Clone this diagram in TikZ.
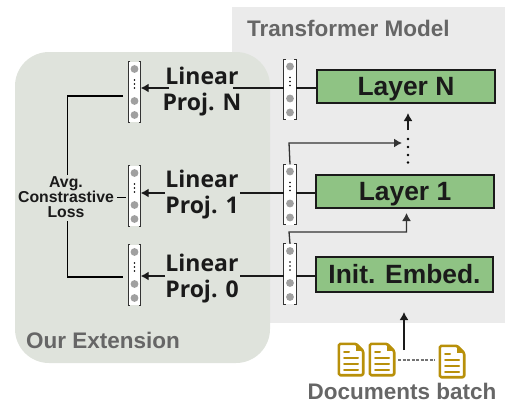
\documentclass[tikz,border=0pt]{standalone}
\usepackage{fontspec}
\setmainfont{Liberation Sans}
\newfontfamily\opensans{Open Sans}
\usetikzlibrary{arrows.meta,calc}
\definecolor{modelbg}{HTML}{EBEBEB}
\definecolor{extbg}{HTML}{DFE3DC}
\definecolor{layergreen}{HTML}{8FC384}
\definecolor{edgeink}{HTML}{1A1A1A}
\definecolor{dotgray}{HTML}{A0A0A0}
\definecolor{titlegray}{HTML}{666666}
\definecolor{docgold}{HTML}{B8900A}
\tikzset{
  x=1pt,y=-1pt,
  layerbox/.style={draw=edgeink,line width=1.2pt,fill=layergreen,text=edgeink,inner sep=0pt,text height=19pt,text depth=2pt,font=\bfseries\fontsize{26.4}{28}\selectfont},
  vecbox/.style={fill=white,minimum width=12pt,minimum height=60pt,inner sep=0pt},
  proj/.style={text=edgeink,align=center,inner sep=0pt,font=\opensans\bfseries\fontsize{23}{26}\selectfont},
  title/.style={text=titlegray,inner sep=0pt,font=\bfseries\fontsize{22.5}{24}\selectfont},
  wire/.style={edgeink,line width=1.4pt},
  thickwire/.style={black,line width=1.8pt},
  arrowwire/.style={wire,-{Latex[length=8pt,width=9pt]}},
  graywire/.style={draw=black!80,line width=1.3pt,-{Latex[length=8pt,width=9pt]}},
  docline/.style={docgold,line width=2pt,line cap=round},
}
\newcommand{\vecnode}[3]{%
  \node[vecbox] (#1) at (#2,#3) {};
  \draw[black!80,line width=1.1pt]
    ($(#1.north west)+(2,0)$) -- (#1.north west) -- (#1.south west) -- ($(#1.south west)+(2,0)$)
    ($(#1.north east)+(-2,0)$) -- (#1.north east) -- (#1.south east) -- ($(#1.south east)+(-2,0)$);
  \fill[dotgray] (#2,#3-23) circle (3.9) (#2,#3+9) circle (3.9) (#2,#3+23) circle (3.9);
  \fill[black] (#2,#3-12) circle (0.8) (#2,#3-8) circle (0.8) (#2,#3-4) circle (0.8);
}
\newcommand{\docicon}[3]{%
  \node[minimum width=26pt,minimum height=33pt,inner sep=0pt] (#1) at (#2,#3) {};
  \draw[docgold,line width=2.6pt,line join=round,rounded corners=1.5pt]
    ($(#1.north west)+(1,1)$) -- ($(#1.north east)+(-8,1)$) -- ($(#1.north east)+(-1,8)$)
    -- ($(#1.south east)+(-1,-1)$) -- ($(#1.south west)+(1,-1)$) -- cycle;
  \fill[docgold] ($(#1.north east)+(-8,1)$) -- ($(#1.north east)+(-8,8)$) -- ($(#1.north east)+(-1,8)$) -- cycle;
  \draw[docline] (#2-7,#3-8) -- (#2-2,#3-8);
  \draw[docline] (#2-7,#3-2) -- (#2+7,#3-2);
  \draw[docline] (#2-7,#3+4) -- (#2+7,#3+4);
  \draw[docline] (#2-7,#3+10) -- (#2+7,#3+10);
}
\begin{document}
\begin{tikzpicture}
\useasboundingbox (0,0) rectangle (505,402);
\fill[modelbg] (232,7) rectangle (505,323);
\fill[extbg,rounded corners=34pt] (15,52) rectangle (270,363);
\node[title,anchor=west] (modeltitle) at (247,28) {Transformer Model};
\node[title,anchor=west] (exttitle) at (26,340) {Our Extension};

\node[layerbox,minimum width=178pt,minimum height=33pt] (layN) at (406,86.5) {Layer N};
\node[layerbox,minimum width=178pt,minimum height=33pt] (lay1) at (405,191.5) {Layer 1};
\node[layerbox,minimum width=177pt,minimum height=35pt] (lay0) at (404.5,274.5) {Init. Embed.};

\vecnode{rN}{290}{89.5}
\vecnode{r1}{290}{194.5}
\vecnode{r0}{290}{274}
\vecnode{lN}{134.5}{92}
\vecnode{l1}{134.5}{196}
\vecnode{l0}{134.5}{275}

\node[proj] (pN) at (202,92) {Linear\\Proj. N};
\node[proj] (p1) at (202,195) {Linear\\Proj. 1};
\node[proj] (p0) at (202,279) {Linear\\Proj. 0};

\coordinate (yN) at (0,88);
\coordinate (y1) at (0,193);
\coordinate (y0) at (0,276);
\draw[wire] (layN.west |- yN) -- (rN.east |- yN);
\draw[wire] (rN.west |- yN) -- (233,88);
\draw[arrowwire] (169,88) -- (lN.east |- yN);
\draw[wire] (lay1.west |- y1) -- (r1.east |- y1);
\draw[wire] (r1.west |- y1) -- (240,193);
\draw[arrowwire] (165,193) -- (l1.east |- y1);
\draw[wire] (lay0.west |- y0) -- (r0.east |- y0);
\draw[wire] (r0.west |- y0) -- (240,276);
\draw[arrowwire] (165,276) -- (l0.east |- y0);

\node[text=edgeink,align=center,inner sep=0pt,font=\bfseries\fontsize{15.8}{15}\selectfont] (loss) at (66,197) {Avg.\\Constrastive\\Loss};
\draw[thickwire] (123,96) -- (67.5,96) -- (67.5,175);
\draw[thickwire] (67.5,221) -- (67.5,277) -- (123,277);
\draw[thickwire] (117,197.5) -- (126,197.5);

\draw[graywire] (r1.north) -- (289,143) -- (402,143);
\draw[graywire] (r0.north) -- (289,232) -- (406.5,232) -- (406.5,213);
\draw[arrowwire] (408,130) -- (408,113);
\fill[black] (408,139) circle (1.4) (408,147) circle (1.4) (408,155) circle (1.4) (408,162.5) circle (1.4);

\docicon{d1}{351}{359.5}
\docicon{d2}{382}{359.5}
\docicon{d3}{452}{361.5}
\draw[black!55,line width=1.1pt,dash pattern=on 3pt off 1.5pt] (398,360) -- (435,360);
\draw[arrowwire,line width=1.4pt] (404,350) -- (404,312);
\node[title] (batch) at (402,391) {Documents batch};
\end{tikzpicture}
\end{document}
